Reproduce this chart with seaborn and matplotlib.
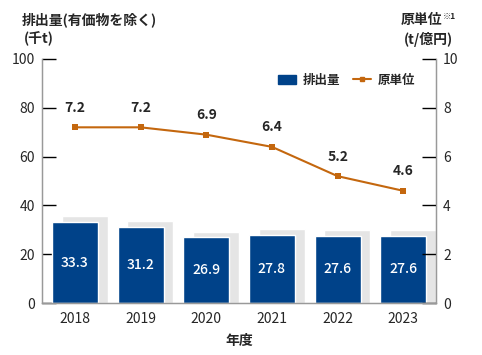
import numpy as np
import pandas as pd
import seaborn as sns
import matplotlib.pyplot as plt
from matplotlib.patches import Patch
from matplotlib.lines import Line2D

# Data
years = ["2018", "2019", "2020", "2021", "2022", "2023"]
emissions = [33.3, 31.2, 26.9, 27.8, 27.6, 27.6]   # 排出量 (千t)
intensity = [7.2, 7.2, 6.9, 6.4, 5.2, 4.6]         # 原単位 (t/億円)

df = pd.DataFrame({"年度": years, "排出量": emissions, "原単位": intensity})

sns.set_style("white")
plt.rcParams['font.family'] = ['Noto Sans CJK JP', 'DejaVu Sans']

BLUE = "#004289"
ORANGE = "#c4670e"
GRAY = "#e5e5e5"
SPINE = "#999999"

fig = plt.figure(figsize=(4.82, 3.55), dpi=100)
ax = fig.add_axes([0.087, 0.146, 0.818, 0.688])

x = np.arange(len(years))

# shadow bars behind the main bars
ax.bar(x + 0.15, df["排出量"] + 2.4, width=0.7, color=GRAY, zorder=1)

sns.barplot(data=df, x="年度", y="排出量", color=BLUE, width=0.7,
            saturation=1, ax=ax, zorder=2)

for xi, v in zip(x, emissions):
    ax.text(xi, v / 2, f"{v:.1f}", ha="center", va="center",
            color="white", fontsize=10, fontweight="medium", zorder=3)

ax.set_ylim(0, 100)
ax.set_xlim(-0.5, len(years) - 0.5)
ax.set_yticks(range(0, 101, 20))
ax.set_ylabel("")
ax.set_xlabel("年度", fontsize=10, fontweight="bold", labelpad=6)

# category boundary ticks on x-axis
ax.set_xticks(x)
ax.set_xticks(np.arange(0.5, len(years) - 0.5, 1), minor=True)
ax.tick_params(axis="x", which="major", length=0, labelsize=10, pad=6)
ax.tick_params(axis="x", which="minor", direction="in", length=5, color=SPINE)
ax.tick_params(axis="y", direction="in", length=10, width=1, labelsize=10,
               pad=5, color="black")

ax.spines["top"].set_visible(False)
for s in ["left", "right", "bottom"]:
    ax.spines[s].set_color(SPINE)
    ax.spines[s].set_linewidth(1)

# secondary axis for intensity
ax2 = ax.twinx()
sns.lineplot(x=x, y=intensity, ax=ax2, color=ORANGE, linewidth=1.5,
             marker="s", markersize=4, markeredgewidth=0, zorder=4)
for xi, v in zip(x, intensity):
    ax2.annotate(f"{v:.1f}", (xi, v), xytext=(0, 9), textcoords="offset points",
                 ha="center", va="bottom", fontsize=10, fontweight="bold")
ax2.set_ylim(0, 10)
ax2.set_yticks(range(0, 11, 2))
ax2.tick_params(axis="y", direction="in", length=10, width=1, labelsize=10,
                pad=5, color="black")
ax2.spines["top"].set_visible(False)
for s in ["left", "right", "bottom"]:
    ax2.spines[s].set_color(SPINE)

# axis titles
fig.text(0.046, 0.945, "排出量(有価物を除く)", fontsize=10, fontweight="bold",
         ha="left", va="center")
fig.text(0.05, 0.89, "(千t)", fontsize=10, fontweight="bold",
         ha="left", va="center")
fig.text(0.875, 0.945, "原単位", fontsize=10, fontweight="bold",
         ha="center", va="center")
fig.text(0.918, 0.955, "※1", fontsize=6, fontweight="bold",
         ha="left", va="center")
fig.text(0.888, 0.89, "(t/億円)", fontsize=10, fontweight="bold",
         ha="center", va="center")

handles = [Patch(color=BLUE, label="排出量"),
           Line2D([0], [0], color=ORANGE, marker="s", markersize=3.5,
                  linewidth=1.5, label="原単位")]
leg = ax2.legend(handles=handles, loc="upper right", ncol=2, frameon=False,
                 bbox_to_anchor=(0.975, 0.985), fontsize=9, handlelength=1.5,
                 handleheight=0.8, columnspacing=1.0, handletextpad=0.5)
for t in leg.get_texts():
    t.set_fontweight("bold")

fig.savefig("out.png", dpi=100)
